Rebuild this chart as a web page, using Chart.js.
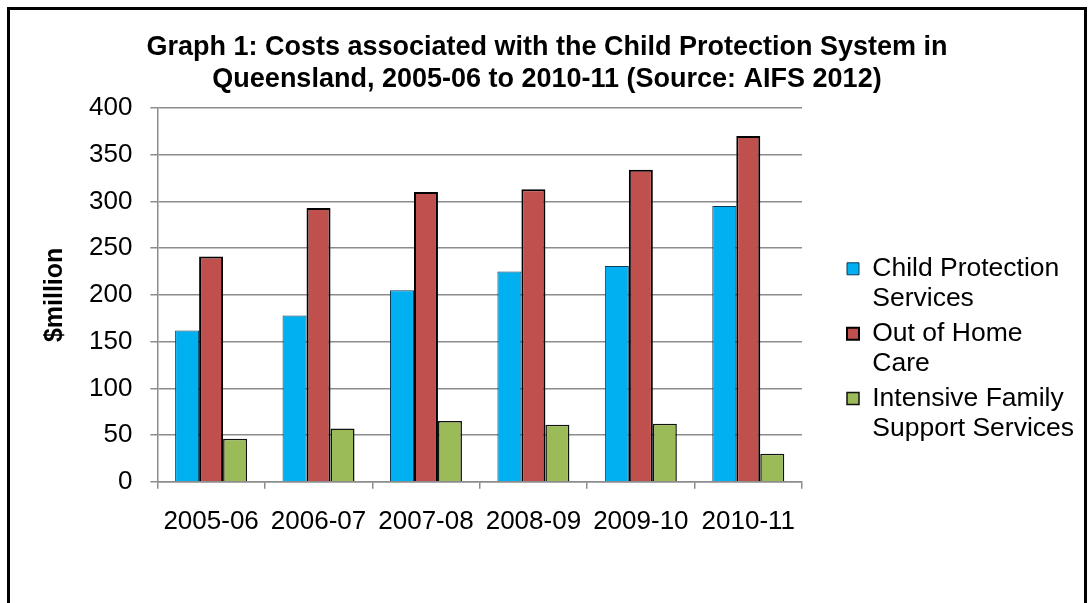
<!DOCTYPE html>
<html>
<head>
<meta charset="utf-8">
<script src="https://cdn.jsdelivr.net/npm/chart.js@4.4.1/dist/chart.umd.min.js"></script>
<style>
  body { margin: 0; background: #fff; }
  #frame {
    position: absolute; left: 7px; top: 7px;
    width: 1074px; height: 620px;
    border: 3px solid #000; box-sizing: content-box;
  }
</style>
</head>
<body>
<div id="frame"><canvas id="chart" width="1074" height="590"></canvas></div>
<script>
// 年度
const years = ['2005-06', '2006-07', '2007-08', '2008-09', '2009-10', '2010-11'];

// $million
const childProtection = [162, 178, 205, 225, 231, 295];
const outOfHomeCare = [241, 293, 310, 313, 334, 370];
const intensiveFamily = [46, 57, 65, 61, 62, 30];

// legend text, split as in the original
const seriesLines = [
  ['Child Protection', 'Services'],
  ['Out of Home', 'Care'],
  ['Intensive Family', 'Support Services']
];

const yTicks = [0, 50, 100, 150, 200, 250, 300, 350, 400];

const titleLines = [
  'Graph 1: Costs associated with the Child Protection System in',
  'Queensland, 2005-06 to 2010-11 (Source: AIFS 2012)'
];

const FONT = "'Liberation Sans', Arial, sans-serif";
const gridColor = '#8c8c8c';

const data = {
  labels: years,
  datasets: [
    {
      label: seriesLines[0].join(' '),
      data: childProtection,
      backgroundColor: '#00b0f0',
      borderColor: '#0d3b57',
      borderWidth: 1
    },
    {
      label: seriesLines[1].join(' '),
      data: outOfHomeCare,
      backgroundColor: '#c0504d',
      borderColor: '#000',
      borderWidth: 2
    },
    {
      label: seriesLines[2].join(' '),
      data: intensiveFamily,
      backgroundColor: '#9bbb59',
      borderColor: '#111',
      borderWidth: 1.5
    }
  ]
};

const config = {
  type: 'bar',
  data: data,
  options: {
    responsive: false,
    animation: false,
    layout: { padding: { left: 4, right: 4, top: 0, bottom: 46 } },
    datasets: { bar: { categoryPercentage: 0.67, barPercentage: 1 } },
    plugins: {
      tooltip: { enabled: false },
      title: {
        display: true,
        text: titleLines,
        color: '#000',
        font: { family: FONT, size: 27, weight: 'bold', lineHeight: 1.185 },
        padding: { top: 22, bottom: 12 }
      },
      legend: {
        position: 'right',
        align: 'center',
        fullSize: false,
        maxWidth: 238,
        title: {
          display: true,
          text: ' ',
          font: { family: FONT, size: 10, lineHeight: 1 },
          padding: { top: 0, bottom: 101 }
        },
        labels: {
          color: '#000',
          font: { family: FONT, size: 26.5, lineHeight: 1.13 },
          boxWidth: 12,
          boxHeight: 12,
          padding: 5,
          generateLabels: (chart) => {
            const items = Chart.defaults.plugins.legend.labels.generateLabels(chart);
            items.forEach((it, i) => { it.text = seriesLines[i]; });
            return items;
          }
        }
      }
    },
    scales: {
      x: {
        grid: {
          offset: true,
          drawOnChartArea: false,
          tickLength: 7,
          color: gridColor,
          lineWidth: 1.5
        },
        border: { color: gridColor, width: 1.5 },
        ticks: {
          color: '#000',
          font: { family: FONT, size: 26 },
          padding: 17,
          maxRotation: 0,
          autoSkip: false
        }
      },
      y: {
        min: 0,
        max: 400,
        afterBuildTicks: (scale) => { scale.ticks = yTicks.map(v => ({ value: v })); },
        grid: { color: gridColor, lineWidth: 1.5, tickLength: 7 },
        border: { color: gridColor, width: 1.5 },
        ticks: {
          color: '#000',
          font: { family: FONT, size: 26 },
          padding: 18
        },
        title: {
          display: true,
          text: '$million',
          color: '#000',
          font: { family: FONT, size: 25, weight: 'bold' },
          padding: { top: 26, bottom: 1 }
        }
      },
      // keeps a gap between the plot and the legend
      gap: {
        position: 'right',
        display: true,
        grid: { display: false },
        border: { display: false },
        ticks: { display: false },
        afterFit: (scale) => { scale.width = 40; }
      }
    }
  }
};

const chart = new Chart(document.getElementById('chart'), config);
</script>
</body>
</html>
